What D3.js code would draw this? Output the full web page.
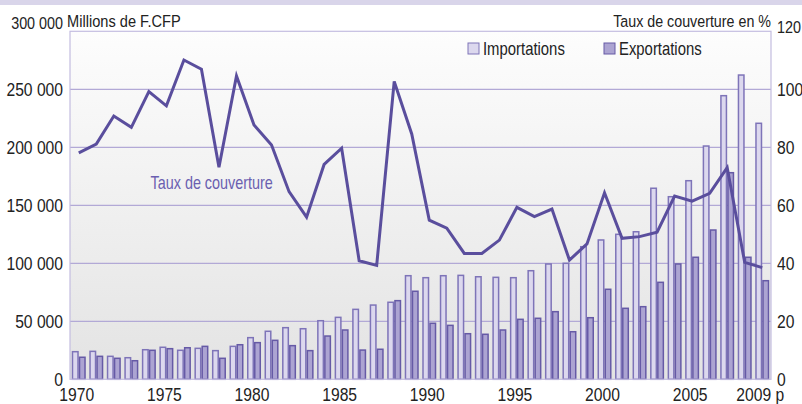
<!DOCTYPE html>
<html>
<head>
<meta charset="utf-8">
<script src="https://cdn.jsdelivr.net/npm/d3@7"></script>
<style>
  html, body { margin: 0; padding: 0; background: #ffffff; }
  svg { display: block; }
  text { font-family: "Liberation Sans", Arial, sans-serif; fill: #222; }
</style>
</head>
<body>
<svg id="chart" width="802" height="404"></svg>
<script>
const years = [1970,1971,1972,1973,1974,1975,1976,1977,1978,1979,
               1980,1981,1982,1983,1984,1985,1986,1987,1988,1989,
               1990,1991,1992,1993,1994,1995,1996,1997,1998,1999,
               2000,2001,2002,2003,2004,2005,2006,2007,2008,2009];
const importations = [23800,24100,19800,18600,25500,27600,25000,26700,24700,28400,
                      35900,41400,44500,43600,50500,53400,60300,64000,66400,89300,
                      87600,89300,89600,88400,87900,87600,93600,99400,100000,114300,
                      120100,125000,127200,164700,157400,171200,201100,244500,262300,220700];
const exportations = [19000,19800,18100,16000,25000,26400,27200,28400,18100,29800,
                      31600,33600,29000,24700,37300,42500,25200,25900,67800,75900,
                      48300,46500,39300,38800,42500,51700,52600,58300,41000,53100,
                      77600,61200,62600,83600,99400,105200,128700,178100,105200,85000];
const tauxCouverture = [78.1,81.1,90.8,86.9,99.2,94.3,110.1,106.9,73.1,104.6,
                        87.7,80.8,64.7,55.9,74.1,79.7,40.9,39.3,102.7,84.6,
                        54.9,52.1,43.4,43.4,48.0,59.3,56.1,58.7,41.1,46.7,
                        64.3,48.6,49.2,50.7,63.2,61.4,64.1,73.0,40.3,38.5];
const leftTicks = [0,50000,100000,150000,200000,250000,300000];
const rightTicks = [0,20,40,60,80,100,120];
const xTickYears = [1970,1975,1980,1985,1990,1995,2000,2005,2009];
const seriesNames = ["Importations","Exportations"];

const svg = d3.select("#chart");
const W = 802, H = 404;
const m = {left: 70, right: 771, top: 31.3, bottom: 379.3};

function condense(sel, s, origin) {
  sel.style("transform-box","fill-box").style("transform-origin", origin).style("transform", `scaleX(${s})`);
  return sel;
}

// top band
svg.append("rect").attr("x",0).attr("y",0).attr("width",W).attr("height",5).attr("fill","#d9d5ea");

// gradient background
const defs = svg.append("defs");
const grad = defs.append("linearGradient").attr("id","bg").attr("x1",0).attr("y1",0).attr("x2",0).attr("y2",1);
grad.append("stop").attr("offset","0%").attr("stop-color","#fdfdfd");
grad.append("stop").attr("offset","100%").attr("stop-color","#e3e3e3");

const x = d3.scaleBand().domain(years).range([m.left, m.right]).paddingInner(0.2).paddingOuter(0.1);
const x1 = d3.scaleBand().domain(seriesNames).range([0, x.bandwidth()]).padding(0);
const y = d3.scaleLinear().domain([0,300000]).range([m.bottom, m.top]);
const yR = d3.scaleLinear().domain([0,120]).range([m.bottom, m.top]);

svg.append("rect").attr("x",m.left).attr("y",m.top).attr("width",m.right-m.left).attr("height",m.bottom-m.top)
  .attr("fill","url(#bg)");

// grid lines
svg.append("g").selectAll("line").data(leftTicks.filter(d => d>0 && d<300000)).join("line")
  .attr("x1",m.left).attr("x2",m.right).attr("y1",d=>y(d)).attr("y2",d=>y(d))
  .attr("stroke","#b2a9d6").attr("stroke-width",1.2);

// bars
const colors = {Importations: {fill:"#dcd8ee", stroke:"#7e74b8"}, Exportations: {fill:"#aca4d2", stroke:"#665aa6"}};
const rows = years.map((yr,i) => ({year: yr, Importations: importations[i], Exportations: exportations[i]}));
const g = svg.append("g").selectAll("g").data(rows).join("g").attr("transform", d => `translate(${x(d.year)},0)`);
g.selectAll("rect").data(d => seriesNames.map(k => ({key:k, value:d[k]}))).join("rect")
  .attr("x", d => x1(d.key)+0.75).attr("width", x1.bandwidth()-1.5)
  .attr("y", d => y(d.value)).attr("height", d => y(0)-y(d.value))
  .attr("fill", d => colors[d.key].fill).attr("stroke", d => colors[d.key].stroke).attr("stroke-width",1.5);

// frame
svg.append("rect").attr("x",m.left).attr("y",m.top).attr("width",m.right-m.left).attr("height",m.bottom-m.top)
  .attr("fill","none").attr("stroke","#c4bde0").attr("stroke-width",1.2);

// line
const line = d3.line().x((d,i) => x(years[i]) + x.bandwidth()/2).y(d => yR(d));
svg.append("path").datum(tauxCouverture).attr("d", line)
  .attr("fill","none").attr("stroke","#5a4e9d").attr("stroke-width",3).attr("stroke-linejoin","miter");

// left axis labels
const axL = d3.axisLeft(y).tickValues(leftTicks).tickSize(0).tickPadding(7)
  .tickFormat(d => d3.format(",")(d).replace(/,/g, " "));
const gL = svg.append("g").attr("transform",`translate(${m.left},0)`).call(axL);
gL.select(".domain").remove();
gL.selectAll("text").style("font-family","inherit").attr("fill","#222")
  .attr("font-size", d => d===300000 ? 16.5 : 18)
  .attr("dy", d => d===300000 ? "-0.15em" : "0.35em");
condense(gL.selectAll("text"), 0.87, "right center");

// right axis labels
const axR = d3.axisRight(yR).tickValues(rightTicks).tickSize(0).tickPadding(6);
const gR = svg.append("g").attr("transform",`translate(${m.right},0)`).call(axR);
gR.select(".domain").remove();
gR.selectAll("text").style("font-family","inherit").attr("fill","#222")
  .attr("font-size", d => d===120 ? 16.5 : 18)
  .attr("dy", d => d===120 ? "0.05em" : "0.35em");
condense(gR.selectAll("text"), 0.87, "left center");

// bottom axis labels
const axB = d3.axisBottom(x).tickValues(xTickYears).tickSize(0).tickPadding(9)
  .tickFormat(d => d===2009 ? "2009 p" : String(d));
const gB = svg.append("g").attr("transform",`translate(-2,${m.bottom})`).call(axB);
gB.select(".domain").remove();
gB.selectAll("text").attr("font-size",18).style("font-family","inherit").attr("fill","#222");
condense(gB.selectAll("text"), 0.87, "center");

// axis titles
condense(svg.append("text").attr("x",67).attr("y",27).attr("font-size",17).text("Millions de F.CFP"), 0.86, "left center");
condense(svg.append("text").attr("x",771).attr("y",27).attr("text-anchor","end").attr("font-size",17).text("Taux de couverture en %"), 0.84, "right center");

// legend
const leg = svg.append("g");
const legX = [468, 604];
seriesNames.forEach((k,i) => {
  leg.append("rect").attr("x",legX[i]).attr("y",43).attr("width",11).attr("height",11)
    .attr("fill",colors[k].fill).attr("stroke",colors[k].stroke).attr("stroke-width",1);
  condense(leg.append("text").attr("x",legX[i]+15).attr("y",55).attr("font-size",17.5).text(k), 0.85, "left center");
});

// line label
condense(svg.append("text").attr("x",150.5).attr("y",189.5).attr("font-size",18).style("fill","#6a5fb0").text("Taux de couverture"), 0.8, "left center");
</script>
</body>
</html>
